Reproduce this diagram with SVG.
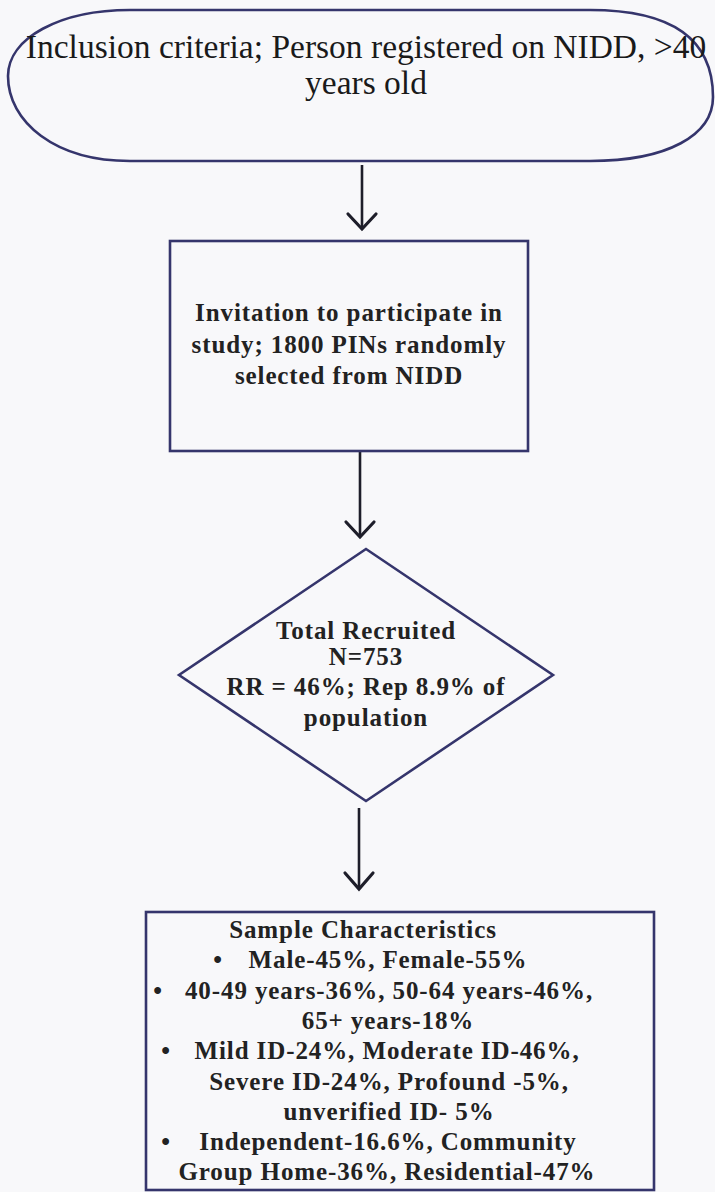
<svg xmlns="http://www.w3.org/2000/svg" width="715" height="1192" viewBox="0 0 715 1192">
  <style>
    .shape { fill: none; stroke: #35356c; stroke-width: 2.6; }
    .wire { fill: none; stroke: #1e1e2a; stroke-width: 2.6; }
    .head { fill: none; stroke: #1e1e2a; stroke-width: 3.2; stroke-linejoin: miter; stroke-linecap: round; }
    text { font-family: 'Liberation Serif', 'DejaVu Serif', serif; text-anchor: middle; }
    .t-reg { font-size: 33.5px; fill: #1a1a1a; }
    .t-bold { font-weight: bold; font-size: 25px; letter-spacing: 0.9px; fill: #222; }
  </style>
  <rect width="715" height="1192" fill="#f8f8fa"/>

  <!-- connectors -->
  <g id="connectors">
    <line class="wire" x1="362" y1="165" x2="362" y2="229"/>
    <polyline class="head" points="348,214 362,229 376,214"/>
    <line class="wire" x1="360" y1="452" x2="360" y2="537"/>
    <polyline class="head" points="346,522 360,537 374,522"/>
    <line class="wire" x1="359" y1="808" x2="359" y2="889"/>
    <polyline class="head" points="345,873 359,889 373,873"/>
  </g>

  <!-- start terminator -->
  <g id="node-inclusion">
    <path class="shape" d="M130,10 L590,10 C680,10 713,45 713,97 C713,135 668,161 590,161 L130,161 C55,161 8,122 8,76 C8,38 60,10 130,10 Z"/>
    <text class="t-reg" x="366" y="58">Inclusion criteria; Person registered on NIDD, &gt;40</text>
    <text class="t-reg" x="366" y="94">years old</text>
  </g>

  <!-- invitation step -->
  <g id="node-invitation">
    <rect class="shape" x="170" y="241" width="358" height="210"/>
    <text class="t-bold" x="349" y="321">Invitation to participate in</text>
    <text class="t-bold" x="349" y="353">study; 1800 PINs randomly</text>
    <text class="t-bold" x="349" y="384">selected from NIDD</text>
  </g>

  <!-- recruitment decision -->
  <g id="node-recruited">
    <polygon class="shape" points="366,549 553,675 366,801 179,675"/>
    <text class="t-bold" x="366" y="639">Total Recruited</text>
    <text class="t-bold" x="366" y="665">N=753</text>
    <text class="t-bold" x="366" y="695">RR = 46%; Rep 8.9% of</text>
    <text class="t-bold" x="366" y="726">population</text>
  </g>

  <!-- sample characteristics -->
  <g id="node-sample">
    <rect class="shape" x="146" y="912" width="508" height="278"/>
    <text class="t-bold" x="363" y="938">Sample Characteristics</text>
    <text class="t-bold" x="218" y="968">•</text>
    <text class="t-bold" x="388" y="968">Male-45%, Female-55%</text>
    <text class="t-bold" x="158" y="999">•</text>
    <text class="t-bold" x="389" y="999">40-49 years-36%, 50-64 years-46%,</text>
    <text class="t-bold" x="388" y="1029">65+ years-18%</text>
    <text class="t-bold" x="166" y="1059">•</text>
    <text class="t-bold" x="387" y="1059">Mild ID-24%, Moderate ID-46%,</text>
    <text class="t-bold" x="389" y="1090">Severe ID-24%, Profound -5%,</text>
    <text class="t-bold" x="389" y="1120">unverified ID- 5%</text>
    <text class="t-bold" x="166" y="1150">•</text>
    <text class="t-bold" x="388" y="1150">Independent-16.6%, Community</text>
    <text class="t-bold" x="387" y="1180">Group Home-36%, Residential-47%</text>
  </g>
</svg>
